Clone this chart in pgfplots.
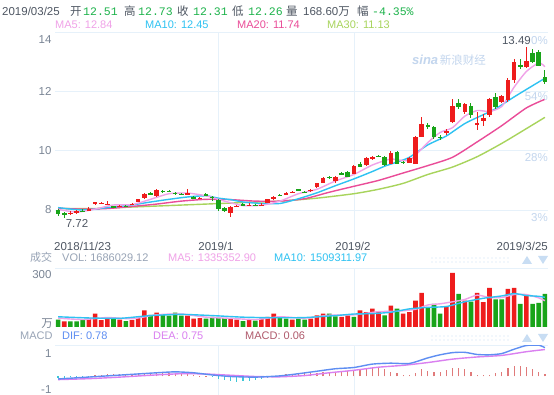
\documentclass[border=0pt]{standalone}
\usepackage{pgfplots}
\pgfplotsset{compat=1.18}
\usepackage{pgfplotstable}
\usepackage{fontspec}
\setmainfont{Liberation Sans}
\newfontfamily\cjk{Noto Sans CJK SC}
\newfontfamily\mono{Liberation Mono}
\definecolor{upc}{HTML}{EE1C1C}
\definecolor{dnc}{HTML}{19A419}
\definecolor{ma5}{HTML}{F0A2E8}
\definecolor{ma10}{HTML}{2EC2F2}
\definecolor{ma20}{HTML}{EA4C98}
\definecolor{ma30}{HTML}{A8D45C}
\definecolor{gridc}{HTML}{E6F1FA}
\definecolor{tickc}{HTML}{7A8595}
\definecolor{pctc}{HTML}{C3D6EE}
\definecolor{hdr}{HTML}{4F5763}
\definecolor{numg}{HTML}{1DB34B}
\definecolor{difc}{HTML}{5E8EF2}
\definecolor{deac}{HTML}{DA80F0}
\definecolor{macdc}{HTML}{B05A6C}
\definecolor{histp}{HTML}{E07A7A}
\definecolor{histn}{HTML}{3CC6D6}
\definecolor{lbl}{HTML}{98A4B6}
\definecolor{deco}{HTML}{C8DDF3}

% candles: i open high low close
\pgfplotstableread{
i o h l c
2 7.88 7.95 7.84 7.90
3 7.89 8.00 7.87 7.97
5 7.96 8.10 7.95 8.05
6 8.20 8.28 8.18 8.26
7 8.22 8.27 8.20 8.25
8 8.18 8.30 8.16 8.21
10 8.11 8.16 8.09 8.13
12 8.18 8.22 8.16 8.20
13 8.28 8.38 8.26 8.36
14 8.39 8.58 8.37 8.53
16 8.47 8.70 8.45 8.67
21 8.53 8.72 8.52 8.56
23 8.38 8.44 8.36 8.41
28 7.89 8.12 7.78 8.10
29 8.12 8.16 8.10 8.14
31 8.15 8.22 8.13 8.18
33 8.15 8.22 8.14 8.18
34 8.25 8.38 8.23 8.36
35 8.37 8.47 8.35 8.45
37 8.54 8.62 8.52 8.57
38 8.58 8.65 8.56 8.61
41 8.64 8.72 8.62 8.68
42 8.78 8.92 8.76 8.90
43 8.92 9.10 8.90 9.07
45 8.97 9.15 8.92 9.12
48 9.23 9.52 9.20 9.48
50 9.52 9.78 9.50 9.74
51 9.72 9.84 9.70 9.80
54 9.57 9.98 9.55 9.91
57 9.60 9.80 9.58 9.75
58 9.57 10.50 9.55 10.47
59 10.47 11.15 10.45 10.92
63 10.60 10.72 10.55 10.68
64 10.97 11.74 10.95 11.53
66 11.30 11.62 11.25 11.57
68 10.88 11.30 10.70 10.93
69 11.00 11.25 10.85 11.10
70 11.20 11.80 11.15 11.76
72 11.65 11.90 11.60 11.85
73 11.70 12.45 11.65 12.38
74 12.38 13.10 12.30 13.00
76 12.83 13.49 12.80 13.05
}\candleup
\pgfplotstableread{
i o h l c
0 8.00 8.05 7.80 7.85
1 7.88 7.92 7.72 7.86
4 7.98 8.02 7.93 7.95
9 8.12 8.15 8.08 8.10
11 8.14 8.17 8.10 8.12
15 8.56 8.60 8.52 8.54
17 8.65 8.68 8.58 8.62
18 8.64 8.68 8.60 8.62
19 8.58 8.61 8.52 8.55
20 8.54 8.56 8.49 8.51
22 8.45 8.48 8.36 8.38
24 8.54 8.58 8.48 8.50
25 8.45 8.48 8.30 8.43
26 8.34 8.36 7.98 8.02
27 8.06 8.09 7.93 7.96
30 8.20 8.22 8.12 8.15
32 8.17 8.20 8.12 8.14
36 8.52 8.54 8.46 8.49
39 8.70 8.72 8.64 8.66
40 8.62 8.64 8.57 8.59
44 9.12 9.15 9.06 9.09
46 9.24 9.27 9.18 9.20
47 9.29 9.32 9.10 9.12
49 9.57 9.62 9.44 9.46
52 9.82 9.86 9.78 9.81
53 9.80 9.84 9.50 9.52
55 9.95 10.00 9.55 9.57
56 9.63 9.66 9.55 9.60
60 10.88 10.95 10.75 10.82
61 10.80 10.85 10.40 10.47
62 10.47 10.52 10.38 10.44
65 11.60 11.75 11.40 11.48
67 11.53 11.60 11.12 11.20
71 11.82 11.95 11.40 11.48
75 12.90 13.10 12.75 12.82
77 13.30 13.45 12.95 13.00
78 13.35 13.42 12.85 12.87
79 12.51 12.73 12.26 12.31
}\candledn

% price moving averages
\pgfplotstableread{
i v
0 8.02
3 7.93
6 8.03
9 8.17
12 8.18
15 8.36
18 8.55
21 8.57
24 8.48
27 8.30
30 8.15
33 8.16
36 8.30
39 8.55
42 8.70
45 8.98
48 9.20
51 9.52
54 9.72
57 9.68
60 10.28
62 10.62
64 10.78
66 11.17
68 11.36
70 11.33
72 11.50
74 12.15
76 12.68
78 12.97
79 12.84
}\maA
\pgfplotstableread{
i v
0 8.08
4 8.00
8 8.08
12 8.17
15 8.27
18 8.36
21 8.44
24 8.48
26 8.40
28 8.35
30 8.27
33 8.22
36 8.22
39 8.38
42 8.58
45 8.82
48 9.05
51 9.30
53 9.48
55 9.62
57 9.78
60 10.20
63 10.50
66 10.92
69 11.22
71 11.42
74 11.82
77 12.20
79 12.45
}\maB
\pgfplotstableread{
i v
0 8.06
4 8.03
8 8.05
12 8.12
16 8.20
20 8.30
24 8.36
28 8.35
32 8.30
36 8.30
40 8.38
44 8.60
48 8.80
52 9.00
56 9.25
60 9.50
64 9.78
68 10.30
72 10.85
76 11.45
79 11.74
}\maC
\pgfplotstableread{
i v
0 8.05
6 8.05
12 8.10
18 8.15
24 8.20
30 8.25
36 8.30
42 8.40
48 8.55
52 8.70
56 8.90
60 9.20
64 9.45
68 9.80
72 10.25
76 10.75
79 11.13
}\maD

% volume (10k shares)
\pgfplotstableread{
i v
1 28
5 43
6 68
7 35
8 45
10 37
12 35
13 45
14 84
16 73
21 58
22 43
23 45
28 45
29 38
31 37
33 42
34 51
35 68
38 38
41 42
42 59
43 68
46 51
47 59
49 85
50 76
51 93
52 79
54 109
56 68
57 76
58 134
59 174
63 106
64 275
66 134
68 174
69 126
70 199
73 194
74 199
76 157
}\volup
\pgfplotstableread{
i v
0 37
2 28
3 28
4 35
9 40
11 30
15 62
17 62
18 58
19 73
20 58
24 42
25 51
26 45
27 45
30 30
32 33
36 45
37 42
39 42
40 38
44 68
45 54
48 51
53 59
55 93
60 100
61 117
62 68
65 168
67 129
71 140
72 140
75 117
77 117
78 123
79 168.6
}\voldn
\pgfplotstableread{
i v
0 45
4 38
8 48
12 42
16 62
20 66
24 50
28 44
32 38
36 52
40 45
44 60
48 62
52 78
55 80
58 90
60 112
62 118
64 128
66 140
68 162
70 150
72 150
74 165
76 165
78 148
79 133.5
}\volA
\pgfplotstableread{
i v
0 52
5 46
10 44
15 58
20 64
25 58
30 50
35 47
40 48
45 58
48 66
51 68
54 75
57 92
60 100
63 104
66 128
69 146
72 158
74 170
76 160
78 156
79 150.9
}\volB

% MACD
\pgfplotstableread{
i v
0 -0.08
4 -0.03
8 0.02
12 0.07
16 0.12
19 0.15
22 0.12
25 0.05
28 0.00
32 -0.02
36 0.02
39 0.09
42 0.17
45 0.25
48 0.29
51 0.40
54 0.43
57 0.42
60 0.60
62 0.70
64 0.77
66 0.78
68 0.71
70 0.70
72 0.74
74 0.88
76 1.00
78 1.01
79 0.93
}\dif
\pgfplotstableread{
i v
0 -0.10
5 -0.07
10 -0.02
15 0.04
20 0.09
24 0.08
28 0.04
32 0.00
36 -0.01
40 0.03
44 0.12
48 0.20
52 0.30
56 0.36
60 0.45
64 0.56
68 0.63
72 0.68
76 0.80
79 0.87
}\dea
\pgfplotstableread{
i v
0 -0.04
1 -0.04
2 -0.03
3 -0.03
4 -0.02
5 -0.01
6 0.05
7 0.06
8 0.07
9 0.07
10 0.07
11 0.07
12 0.08
13 0.09
14 0.10
15 0.10
16 0.11
17 0.11
18 0.11
19 0.10
20 0.09
21 0.08
22 0.05
23 0.03
24 0.01
25 -0.03
26 -0.08
27 -0.12
28 -0.15
29 -0.17
30 -0.16
31 -0.14
32 -0.12
33 -0.09
34 -0.05
35 0.02
36 0.05
37 0.07
38 0.09
39 0.10
40 0.10
41 0.10
42 0.12
43 0.13
44 0.14
45 0.15
46 0.16
47 0.18
48 0.22
49 0.25
50 0.23
51 0.27
52 0.28
53 0.24
54 0.16
55 0.10
56 0.05
57 0.04
58 0.10
59 0.25
60 0.18
61 0.13
62 0.13
63 0.20
64 0.28
65 0.28
66 0.23
67 0.13
68 0.05
69 0.05
70 0.05
71 0.10
72 0.13
73 0.28
74 0.34
75 0.34
76 0.31
77 0.23
78 0.15
79 0.08
}\hist

\pgfplotsset{
  panel/.style={scale only axis, width=493pt, xmin=-0.5, xmax=79.5, anchor=south west,
    axis line style={draw=none}, major tick length=0pt,
    xmajorgrids, ymajorgrids, grid style={gridc, line width=0.7pt},
    xtick={26,48}, xticklabels={},
    /pgf/number format/assume math mode=true,
    yticklabel style={font=\fontsize{11.5}{12}\selectfont, text=tickc},
  },
  wick/.style={draw=none, mark=none, forget plot, error bars/.cd, y dir=both, y explicit,
    error mark=none, error bar style={draw=#1, line width=1pt}},
  body/.style={draw=none, mark=none, forget plot, error bars/.cd, y dir=both, y explicit,
    error mark=none, error bar style={draw=#1, line width=4.6pt}},
  maline/.style={draw=#1, line width=1.4pt, mark=none, smooth, tension=0.4},
}

\begin{document}
\begin{tikzpicture}
\fill[white] (0,0) rectangle (554pt,395pt);

% ---------- price panel ----------
\begin{axis}[panel, at={(55pt,155.4pt)}, height=207.2pt, ymin=7, ymax=14,
  ytick={8,10,12}, extra y ticks={14},
  extra y tick style={grid=major, yticklabel style={yshift=-7pt}}]
\addplot[maline=ma30] table[x=i,y=v] {\maD};
\addplot[maline=ma20] table[x=i,y=v] {\maC};
\addplot[maline=ma10] table[x=i,y=v] {\maB};
\addplot[maline=ma5] table[x=i,y=v] {\maA};
\addplot[wick=upc] table[x=i, y expr={(\thisrow{h}+\thisrow{l})/2}, y error expr={(\thisrow{h}-\thisrow{l})/2}] {\candleup};
\addplot[wick=dnc] table[x=i, y expr={(\thisrow{h}+\thisrow{l})/2}, y error expr={(\thisrow{h}-\thisrow{l})/2}] {\candledn};
\addplot[body=upc] table[x=i, y expr={(\thisrow{o}+\thisrow{c})/2}, y error expr={max(abs(\thisrow{c}-\thisrow{o})/2,0.015)}] {\candleup};
\addplot[body=dnc] table[x=i, y expr={(\thisrow{o}+\thisrow{c})/2}, y error expr={max(abs(\thisrow{c}-\thisrow{o})/2,0.015)}] {\candledn};
\end{axis}

% ---------- volume panel ----------
\begin{axis}[panel, at={(55pt,68pt)}, height=59pt, ymin=0, ymax=300,
  ytick={300}, yticklabel style={yshift=-7pt}]
\addplot[ybar, bar width=4.6pt, bar shift=0pt, fill=upc, draw=none] table[x=i,y=v] {\volup};
\addplot[ybar, bar width=4.6pt, bar shift=0pt, fill=dnc, draw=none] table[x=i,y=v] {\voldn};
\addplot[maline=ma5] table[x=i,y=v] {\volA};
\addplot[maline=ma10] table[x=i,y=v] {\volB};
\end{axis}

% ---------- MACD panel ----------
\begin{axis}[panel, at={(55pt,-12.5pt)}, height=62pt, ymin=-1, ymax=1,
  ytick={1}, yticklabel style={yshift=-8pt},
  extra y ticks={-1}, extra y tick style={grid=major, yticklabel style={yshift=26pt}}]
\addplot[ycomb, mark=none, line width=1.2pt, draw=histp, restrict y to domain=0:2] table[x=i,y=v] {\hist};
\addplot[ycomb, mark=none, line width=1.2pt, draw=histn, restrict y to domain=-2:0] table[x=i,y=v] {\hist};
\addplot[maline=deac] table[x=i,y=v] {\dea};
\addplot[maline=difc] table[x=i,y=v] {\dif};
\end{axis}

% ---------- texts ----------
\begin{scope}[every node/.style={inner sep=0pt, anchor=base west}]
\def\hs{\fontsize{11.5}{12}\selectfont}
\def\ms{\fontsize{11}{12}\selectfont}
\node[text=hdr, font=\hs] at (2pt,379pt) {2019/03/25};
\node[text=hdr, font=\hs\cjk] at (70pt,379pt) {开};
\node[text=numg, font=\hs\mono] at (83pt,379pt) {12.51};
\node[text=hdr, font=\hs\cjk] at (124pt,379pt) {高};
\node[text=numg, font=\hs\mono] at (138pt,379pt) {12.73};
\node[text=hdr, font=\hs\cjk] at (177pt,379pt) {收};
\node[text=numg, font=\hs\mono] at (193pt,379pt) {12.31};
\node[text=hdr, font=\hs\cjk] at (232pt,379pt) {低};
\node[text=numg, font=\hs\mono] at (248pt,379pt) {12.26};
\node[text=hdr, font=\hs\cjk] at (286pt,379pt) {量};
\node[text=hdr, font=\hs] at (303pt,379pt) {168.60{\cjk 万}};
\node[text=hdr, font=\hs\cjk] at (357pt,379pt) {幅};
\node[text=numg, font=\hs\mono] at (372pt,379pt) {-4.35\%};

\node[text=ma5, font=\ms] at (55pt,366pt) {MA5: 12.84};
\node[text=ma10, font=\ms] at (145pt,366pt) {MA10: 12.45};
\node[text=ma20, font=\ms] at (237pt,366pt) {MA20: 11.74};
\node[text=ma30, font=\ms] at (327pt,366pt) {MA30: 11.13};

\node[text=lbl, font=\ms\cjk] at (30pt,133pt) {成交};
\node[text=lbl, font=\ms] at (62pt,133pt) {VOL: 1686029.12};
\node[text=ma5, font=\ms] at (168pt,133pt) {MA5: 1335352.90};
\node[text=ma10, font=\ms] at (274pt,133pt) {MA10: 1509311.97};

\node[text=lbl, font=\ms] at (20pt,55pt) {MACD};
\node[text=difc, font=\ms] at (62pt,55pt) {DIF: 0.78};
\node[text=deac, font=\ms] at (153pt,55pt) {DEA: 0.75};
\node[text=macdc, font=\ms] at (245pt,55pt) {MACD: 0.06};

\node[text=hdr, font=\hs] at (54pt,144pt) {2018/11/23};
\node[text=hdr, font=\hs, anchor=base] at (216pt,144pt) {2019/1};
\node[text=hdr, font=\hs, anchor=base] at (353pt,144pt) {2019/2};
\node[text=hdr, font=\hs, anchor=base east] at (548pt,144pt) {2019/3/25};
\end{scope}

\node[text=tickc, font=\fontsize{11.5}{12}\selectfont\cjk, anchor=center, inner sep=0pt] at (47pt,71.5pt) {万};

% right percentage labels
\begin{scope}[every node/.style={inner sep=0pt, anchor=east, text=pctc, font=\fontsize{11.5}{12}\selectfont}]
\node at (548pt,177.5pt) {3\%};
\node at (548pt,237pt) {28\%};
\node at (548pt,298pt) {54\%};
\node at (548pt,354pt) {0\%};
\end{scope}
\node[anchor=east, inner sep=0pt, text=hdr, font=\fontsize{11.5}{12}\selectfont] at (531pt,354pt) {13.49};
\node[anchor=center, inner sep=0pt, text=hdr, font=\fontsize{11.5}{12}\selectfont] at (77pt,172pt) {7.72};

% watermark
\node[anchor=west, inner sep=0pt, text=pctc] at (412pt,335pt) {{\fontsize{13}{14}\selectfont\bfseries\itshape sina}\,{\fontsize{11.5}{12}\selectfont\cjk 新浪财经}};

% decorations near panel headers
\foreach \yy in {137,59} {
  \foreach \xx in {432,436,...,508} {
    \fill[deco] (\xx pt,\yy pt) circle (0.6pt);
    \fill[deco] (\xx pt,\yy pt-4pt) circle (0.6pt);
  }
  \fill[deco] (522pt,\yy pt-6pt) -- (532pt,\yy pt-6pt) -- (527pt,\yy pt+2pt) -- cycle;
  \fill[deco] (538pt,\yy pt+2pt) -- (548pt,\yy pt+2pt) -- (543pt,\yy pt-6pt) -- cycle;
}

\pgfresetboundingbox
\path[use as bounding box] (0,0) rectangle (554pt,395pt);
\end{tikzpicture}
\end{document}
